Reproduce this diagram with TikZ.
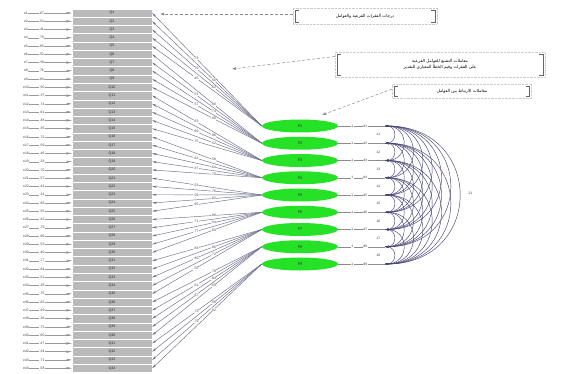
\documentclass[tikz,border=0pt]{standalone}
\usepackage{fontspec}
\setmainfont{Liberation Sans}
\newfontfamily\arabicfont[Script=Arabic]{DejaVu Sans}
\TeXXeTstate=1
\usetikzlibrary{arrows.meta,shapes.geometric}
\begin{document}
\begin{tikzpicture}[x=1pt,y=-1pt,
  tinytxt/.style={font=\fontsize{3.4}{3.8}\selectfont, inner sep=0.4pt, text=black!75},
  itembox/.style={draw=white, line width=0.4pt, fill=black!27, minimum width=80pt, minimum height=8.26pt, inner sep=0pt, font=\fontsize{3.6}{4}\selectfont, text=black!85},
  factor/.style={ellipse, fill={rgb,255:red,38;green,226;blue,38}, minimum width=76pt, minimum height=13pt, inner sep=0pt, font=\fontsize{3.8}{4}\selectfont, text=black!85},
  errline/.style={draw=black!40, line width=0.35pt, -{Stealth[length=6pt,width=2.2pt,fill={rgb,255:red,40;green,40;blue,110}]}},
  load/.style={draw={rgb,255:red,110;green,110;blue,140}, line width=0.45pt, -{Stealth[length=4.5pt,width=2pt,fill={rgb,255:red,35;green,35;blue,100}]}},
  resline/.style={draw=black!45, line width=0.35pt},
  cov/.style={draw={rgb,255:red,70;green,70;blue,120}, line width=0.45pt, {Stealth[length=3.5pt,width=1.8pt]}-{Stealth[length=3.5pt,width=1.8pt]}},
  callout/.style={draw=black!45, densely dashed, line width=0.5pt, -{Latex[length=4pt,width=3pt]}},
  notebox/.style={draw=black!20, densely dotted, line width=0.4pt, inner sep=1pt, font=\fontsize{4.2}{5.5}\selectfont\arabicfont, align=center},
  bracket/.style={draw=black!60, line width=0.5pt}
]
\fill[white] (0,0) rectangle (562,374);
\useasboundingbox (0,0) rectangle (562,374);

% factors
\foreach \k in {1,...,9}{
  \pgfmathsetmacro\fy{126+17.25*(\k-1)}
  \node[factor] (f\k) at (300,\fy) {F\k};
  \coordinate (r\k) at (385,\fy);
}

% items
\foreach \i in {1,...,44}{
  \pgfmathsetmacro\y{13+8.26*(\i-1)}
  \pgfmathtruncatemacro\k{int((\i-1)/5)+1}
  \pgfmathtruncatemacro\ev{mod(\i*37,50)+30}
  \pgfmathtruncatemacro\lv{mod(\i*23,40)+50}
  \pgfmathsetmacro\lp{ifthenelse(mod(\i,2)==0,0.44,0.6)}
  \node[itembox] (b\i) at (112,\y) {Q\i};
  \node[tinytxt] (e\i) at (26,\y) {e\i};
  \draw[errline] (e\i.east) -- node[tinytxt,pos=0.3,fill=white]{.\ev} (b\i.west);
  \draw[load] (f\k.west) -- node[tinytxt,pos=\lp,fill=white]{.\lv} (b\i.east);
}

% residual paths
\foreach \k in {1,...,9}{
  \draw[resline] (f\k.east) -- node[tinytxt,pos=0.3,fill=white]{1} node[tinytxt,pos=0.58,fill=white]{d\k} (r\k);
}
\foreach \k in {1,...,8}{
  \pgfmathsetmacro\my{126+17.25*(\k-1)+8.6}
  \node[tinytxt] (m\k) at (378,\my) {.1\k};
}

% covariance arcs
\foreach \a in {1,...,8}{
  \pgfmathtruncatemacro\s{\a+1}
  \foreach \b in {\s,...,9}{
    \draw[cov] (r\a) to[out=0,in=0,looseness=1.85] (r\b);
  }
}
\node[tinytxt] (apex) at (470,193) {.21};

% notes
\node[notebox, minimum width=144pt, minimum height=16pt] (n1) at (365,16)
  {\beginR درجات الفقرات الفرعية والعوامل\endR};
\node[notebox, minimum width=210pt, minimum height=25pt] (n2) at (440,64.5)
  {\beginR معاملات التشبع للعوامل الفرعية\endR\\ \beginR على الفقرات وقيم الخطأ المعياري للتقدير\endR};
\node[notebox, minimum width=139pt, minimum height=14pt] (n3) at (462,91)
  {\beginR معاملات الارتباط بين العوامل\endR};
\foreach \n in {n1,n2,n3}{
  \draw[bracket] ([xshift=6pt,yshift=-2pt]\n.north west) -- ([xshift=2pt,yshift=-2pt]\n.north west)
     -- ([xshift=2pt,yshift=2pt]\n.south west) -- ([xshift=6pt,yshift=2pt]\n.south west);
  \draw[bracket] ([xshift=-6pt,yshift=-2pt]\n.north east) -- ([xshift=-2pt,yshift=-2pt]\n.north east)
     -- ([xshift=-2pt,yshift=2pt]\n.south east) -- ([xshift=-6pt,yshift=2pt]\n.south east);
}
\coordinate (c1) at (160,14);
\coordinate (c2) at (232,69);
\coordinate (c3) at (322,115);
\draw[callout] ([yshift=2pt]n1.west) -- (c1);
\draw[callout] ([yshift=8pt]n2.west) -- (c2);
\draw[callout] ([yshift=2pt]n3.west) -- (c3);
\end{tikzpicture}
\end{document}
